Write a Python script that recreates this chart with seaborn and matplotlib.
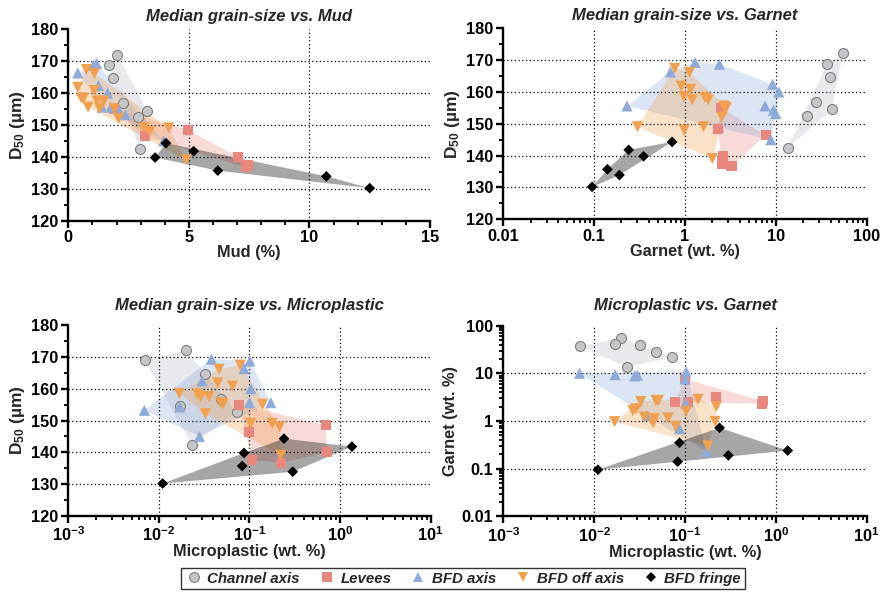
import numpy as np
import matplotlib
matplotlib.use("Agg")
import matplotlib.pyplot as plt
import seaborn as sns
from matplotlib.ticker import MultipleLocator, FixedLocator, NullFormatter, FixedFormatter
from matplotlib.lines import Line2D

# ---------------- data (one entry per sample) ----------------
channel_d50 = [168.9, 172.1, 164.6, 156.8, 152.6, 154.5, 142.4]
channel_mud = [1.67, 2.02, 1.87, 2.27, 2.88, 3.28, 2.96]
channel_garnet = [37, 55, 39, 28, 22, 41, 13.5]
channel_mp = [0.0070, 0.020, 0.032, 0.048, 0.072, 0.017, 0.023]

levees_d50 = [155.0, 146.4, 148.5, 140.0, 136.7, 137.5]
levees_mud = [1.90, 3.17, 4.95, 7.03, 7.36, 7.47]
levees_garnet = [2.5, 7.7, 2.3, 2.6, 3.25, 2.55]
levees_mp = [0.077, 0.099, 0.70, 0.72, 0.222, 0.107]

axis_d50 = [155.6, 166.3, 169.3, 168.7, 162.4, 160.0, 155.6, 154.3, 153.2, 145.0]
axis_mud = [1.40, 0.39, 1.17, 1.05, 1.25, 1.63, 1.77, 2.12, 2.37, 3.95]
axis_garnet = [0.23, 0.69, 1.29, 2.39, 9.2, 10.8, 7.6, 9.4, 10.0, 8.8]
axis_mp = [0.172, 0.087, 0.038, 0.101, 0.030, 0.103, 0.100, 0.017, 0.0069, 0.028]

off_d50 = [167.4, 166.1, 161.8, 160.8, 158.5, 158.3, 157.5, 157.5,
           155.6, 155.2, 152.1, 155.1, 149.1, 149.1, 148.0, 139.1]
off_mud = [0.75, 1.08, 0.39, 1.08, 0.54, 0.62, 1.19, 1.47,
           0.82, 1.30, 2.09, 1.90, 3.13, 4.17, 3.37, 4.88]
off_garnet = [0.77, 1.12, 0.91, 1.15, 0.97, 1.65, 1.80, 1.20,
              2.68, 2.72, 2.55, 2.85, 1.60, 0.30, 0.98, 2.0]
off_mp = [0.079, 0.046, 0.0445, 0.065, 0.0168, 0.0267, 0.0289, 0.0357,
          0.048, 0.051, 0.0326, 0.139, 0.103, 0.178, 0.215, 0.221]

fringe_d50 = [130.2, 135.7, 133.9, 141.8, 139.8, 144.3]
fringe_mud = [12.5, 6.2, 10.7, 5.2, 3.6, 4.05]
fringe_garnet = [0.095, 0.14, 0.19, 0.24, 0.35, 0.72]
fringe_mp = [0.011, 0.083, 0.30, 1.35, 0.087, 0.24]

group_names = ["Channel axis", "Levees", "BFD axis", "BFD off axis", "BFD fringe"]

# ---------------- style ----------------
sns.set_theme(style="white")
plt.rcParams["font.family"] = ["Liberation Sans", "DejaVu Sans"]
plt.rcParams["font.weight"] = "bold"
plt.rcParams["axes.labelweight"] = "bold"
plt.rcParams["mathtext.fontset"] = "custom"
plt.rcParams["mathtext.rm"] = "Liberation Sans:bold"
plt.rcParams["mathtext.bf"] = "Liberation Sans:bold"
plt.rcParams["mathtext.it"] = "Liberation Sans:bold:italic"
plt.rcParams["mathtext.default"] = "bf"

groups = [
    dict(name=group_names[0], d50=channel_d50, mud=channel_mud, garnet=channel_garnet, mp=channel_mp,
         color="#c4c6c9", edge="#7f7f7f", lw=0.8, marker="o", s=52, fill="#b9bdc5", falpha=0.32),
    dict(name=group_names[1], d50=levees_d50, mud=levees_mud, garnet=levees_garnet, mp=levees_mp,
         color="#e8877e", edge="none", lw=0, marker="s", s=52, fill="#e8877e", falpha=0.30),
    dict(name=group_names[2], d50=axis_d50, mud=axis_mud, garnet=axis_garnet, mp=axis_mp,
         color="#8eaad8", edge="none", lw=0, marker="^", s=64, fill="#8eaad8", falpha=0.30),
    dict(name=group_names[3], d50=off_d50, mud=off_mud, garnet=off_garnet, mp=off_mp,
         color="#f0a04e", edge="none", lw=0, marker="v", s=64, fill="#f0a04e", falpha=0.30),
    dict(name=group_names[4], d50=fringe_d50, mud=fringe_mud, garnet=fringe_garnet, mp=fringe_mp,
         color="#000000", edge="none", lw=0, marker="D", s=30, fill="#000000", falpha=0.35),
]


def convex_hull(pts):
    pts = sorted(set(map(tuple, pts)))
    if len(pts) < 3:
        return pts

    def cross(o, a, b):
        return (a[0] - o[0]) * (b[1] - o[1]) - (a[1] - o[1]) * (b[0] - o[0])

    lower = []
    for p in pts:
        while len(lower) >= 2 and cross(lower[-2], lower[-1], p) <= 0:
            lower.pop()
        lower.append(p)
    upper = []
    for p in reversed(pts):
        while len(upper) >= 2 and cross(upper[-2], upper[-1], p) <= 0:
            upper.pop()
        upper.append(p)
    return lower[:-1] + upper[:-1]


fig = plt.figure(figsize=(8.87, 5.94), dpi=100)
W, H = 887.0, 594.0


def add_ax(x0, x1, ytop, ybot):
    return fig.add_axes([x0 / W, 1 - ybot / H, (x1 - x0) / W, (ybot - ytop) / H])


ax1 = add_ax(68.3, 430.0, 29.3, 220.7)
ax2 = add_ax(503.3, 866.7, 28.3, 219.3)
ax3 = add_ax(68.3, 430.7, 325.0, 516.0)
ax4 = add_ax(503.3, 866.7, 325.7, 516.3)

dot = (0, (1, 2))
TICK = 11.8


def panel(ax, xkey, ykey, xlog, ylog):
    for g in groups:
        x = np.asarray(g[xkey], float)
        y = np.asarray(g[ykey], float)
        tx = np.log10(x) if xlog else x
        ty = np.log10(y) if ylog else y
        h = np.array(convex_hull(np.c_[tx, ty]))
        hx = 10 ** h[:, 0] if xlog else h[:, 0]
        hy = 10 ** h[:, 1] if ylog else h[:, 1]
        ax.fill(hx, hy, color=g["fill"], alpha=g["falpha"], lw=0, zorder=1)
    for g in groups:
        sns.scatterplot(x=g[xkey], y=g[ykey], marker=g["marker"], s=g["s"], color=g["color"],
                        edgecolor=g["edge"], linewidth=g["lw"], ax=ax, zorder=3, legend=False)
    if xlog:
        ax.set_xscale("log")
    if ylog:
        ax.set_yscale("log")
    for side in ["top", "right"]:
        ax.spines[side].set_visible(False)
    for side in ["left", "bottom"]:
        ax.spines[side].set_linewidth(1.7)
        ax.spines[side].set_color("black")
    ax.tick_params(which="major", direction="out", length=5, width=1.7, colors="black",
                   labelsize=TICK, pad=2, left=True, bottom=True)
    ax.tick_params(which="minor", direction="out", length=3, width=1.3, colors="black",
                   left=True, bottom=True)
    ax.set_facecolor("white")


def dec_labels(vals, style):
    if style == "pow":
        return [r"$\mathbf{10^{%d}}$" % int(round(np.log10(v))) for v in vals]
    return ["%g" % v for v in vals]


def log_axis(axis, lo, hi, style):
    decs = [10.0 ** k for k in range(int(np.log10(lo)), int(np.log10(hi)) + 1)]
    axis.set_major_locator(FixedLocator(decs))
    axis.set_major_formatter(FixedFormatter(dec_labels(decs, style)))
    minors = [m * d for d in decs[:-1] for m in range(2, 10)]
    axis.set_minor_locator(FixedLocator(minors))
    axis.set_minor_formatter(NullFormatter())


def d50_axis(ax):
    ax.set_ylim(120, 180)
    ax.yaxis.set_major_locator(MultipleLocator(10))
    ax.yaxis.set_minor_locator(MultipleLocator(5))
    for v in [130, 140, 150, 160, 170]:
        ax.axhline(v, color="black", lw=0.9, ls=dot, zorder=2)
    ax.set_ylabel(r"$\mathbf{D_{50}}$ (µm)", fontsize=12.5, fontweight="bold", labelpad=3)


tfont = dict(fontsize=12, fontweight="bold", fontstyle="italic")
lfont = dict(fontsize=11.8, fontweight="bold")

# Panel 1
panel(ax1, "mud", "d50", False, False)
ax1.set_xlim(0, 15)
ax1.xaxis.set_major_locator(MultipleLocator(5))
ax1.xaxis.set_minor_locator(MultipleLocator(1))
d50_axis(ax1)
for v in [5, 10]:
    ax1.axvline(v, color="black", lw=0.9, ls=dot, zorder=2)
ax1.set_xlabel("Mud (%)", labelpad=0, **lfont)
ax1.set_title("Median grain-size vs. Mud", pad=6, **tfont)

# Panel 2
panel(ax2, "garnet", "d50", True, False)
ax2.set_xlim(0.01, 100)
log_axis(ax2.xaxis, 0.01, 100, "dec")
d50_axis(ax2)
for v in [0.1, 1, 10]:
    ax2.axvline(v, color="black", lw=0.9, ls=dot, zorder=2)
ax2.set_xlabel("Garnet (wt. %)", labelpad=0, **lfont)
ax2.set_title("Median grain-size vs. Garnet", pad=6, **tfont)

# Panel 3
panel(ax3, "mp", "d50", True, False)
ax3.set_xlim(1e-3, 10)
log_axis(ax3.xaxis, 1e-3, 10, "pow")
d50_axis(ax3)
for v in [0.01, 0.1, 1]:
    ax3.axvline(v, color="black", lw=0.9, ls=dot, zorder=2)
ax3.set_xlabel("Microplastic (wt. %)", labelpad=0, **lfont)
ax3.set_title("Median grain-size vs. Microplastic", pad=11, **tfont)

# Panel 4
panel(ax4, "mp", "garnet", True, True)
ax4.set_xlim(1e-3, 10)
ax4.set_ylim(0.01, 100)
log_axis(ax4.xaxis, 1e-3, 10, "pow")
log_axis(ax4.yaxis, 0.01, 100, "dec")
for v in [0.01, 0.1, 1]:
    ax4.axvline(v, color="black", lw=0.9, ls=dot, zorder=2)
for v in [0.1, 1, 10]:
    ax4.axhline(v, color="black", lw=0.9, ls=dot, zorder=2)
ax4.set_xlabel("Microplastic (wt. %)", labelpad=0, **lfont)
ax4.set_ylabel("Garnet (wt. %)", labelpad=3, **lfont)
ax4.set_title("Microplastic vs. Garnet", pad=11, **tfont)

for ax in [ax1, ax2, ax3, ax4]:
    for lab in ax.get_xticklabels() + ax.get_yticklabels():
        lab.set_fontweight("bold")

# Legend
handles = []
for g in groups:
    handles.append(Line2D([], [], ls="none", marker=g["marker"], markersize=7 if g["marker"] != "D" else 5.5,
                          markerfacecolor=g["color"],
                          markeredgecolor=g["edge"] if g["edge"] != "none" else g["color"],
                          markeredgewidth=g["lw"] if g["lw"] else 0))
leg = fig.legend(handles, group_names, loc="lower center", bbox_to_anchor=(0.522, -0.005), ncol=5,
                 frameon=True, fancybox=False, shadow=False, edgecolor="black",
                 prop=dict(weight="bold", style="italic", size=10.8),
                 handletextpad=0.3, columnspacing=1.2, borderpad=0.25, handlelength=1.2)
leg.get_frame().set_linewidth(1.0)

fig.savefig("out.png", dpi=100, facecolor="white")
